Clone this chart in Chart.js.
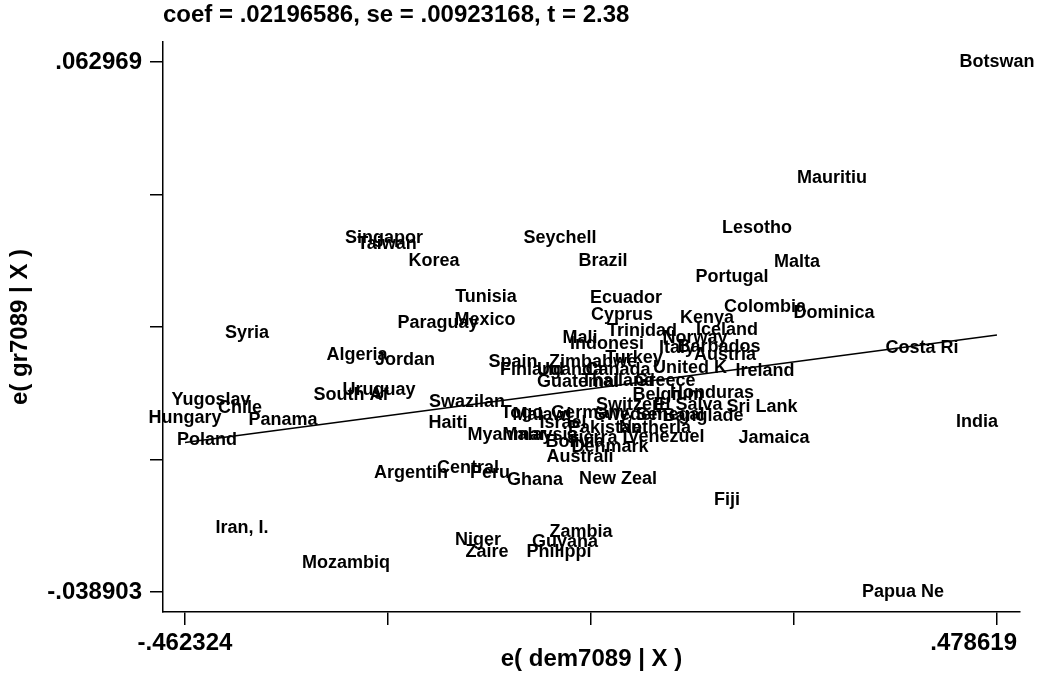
<!DOCTYPE html>
<html>
<head>
<meta charset="utf-8">
<script src="https://cdn.jsdelivr.net/npm/chart.js@4.4.1/dist/chart.umd.min.js"></script>
<style>
  html, body { margin: 0; padding: 0; background: #fff; }
  #avplot { display: block; }
</style>
</head>
<body>
<canvas id="avplot" width="1037" height="674"></canvas>
<script>
// added-variable plot, labels centred on the points
const countries = [
  'Botswan', 'Papua Ne', 'Hungary', 'Mauritiu', 'Lesotho', 'Malta', 'Portugal',
  'Singapor', 'Taiwan', 'Seychell', 'Korea', 'Brazil', 'Tunisia', 'Mexico',
  'Paraguay', 'Ecuador', 'Cyprus', 'Colombia', 'Dominica', 'Kenya', 'Syria',
  'Algeria', 'Jordan', 'Costa Ri', 'Ireland', 'India', 'Jamaica', 'Sri Lank',
  'Fiji', 'Mozambiq', 'Iran, I.', 'Niger', 'Zaire', 'Zambia', 'Guyana',
  'Philippi', 'Ghana', 'New Zeal', 'Central', 'Peru', 'Argentin', 'Haiti',
  'Swazilan', 'South Af', 'Uruguay', 'Yugoslav', 'Chile', 'Panama', 'Poland',
  'Spain', 'Zimbabwe', 'Turkey', 'Finland', 'Uganda', 'Guatemal', 'Thailand',
  'Greece', 'Belgium', 'Honduras', 'Switzerl', 'El Salva', 'Israel', 'Pakistan',
  'Netherla', 'Myanmar', 'Bolivia', 'Sierra L', 'Venezuel', 'Denmark', 'Australi',
  'Mali', 'Indonesi', 'Trinidad', 'Iceland', 'Norway', 'Italy', 'Barbados',
  'Austria', 'United K', 'Canada', 'Togo', 'Malawi', 'Germany,', 'Sweden',
  'Senegal', 'Banglade', 'Malaysia'
];
const demResid = [
  0.4786, 0.3697, -0.4623, 0.2874, 0.2005, 0.2469, 0.1715,
  -0.2317, -0.2282, -0.0278, -0.1738, 0.0221, -0.1135, -0.1147,
  -0.1691, 0.0487, 0.0441, 0.2098, 0.2897, 0.1426, -0.3905,
  -0.2630, -0.2074, 0.3917, 0.2098, 0.4554, 0.2202, 0.2063,
  0.1658, -0.2758, -0.3963, -0.1228, -0.1124, -0.0034, -0.0220,
  -0.0290, -0.0567, 0.0394, -0.1344, -0.1089, -0.2004, -0.1576,
  -0.1355, -0.2700, -0.2375, -0.4322, -0.3986, -0.3488, -0.4368,
  -0.0822, 0.0105, 0.0580, -0.0602, -0.0162, -0.0069, 0.0394,
  0.0939, 0.0974, 0.1484, 0.0533, 0.1206, -0.0243, 0.0244,
  0.0823, -0.0892, -0.0104, 0.0186, 0.0951, 0.0302, -0.0046,
  -0.0046, 0.0267, 0.0672, 0.1658, 0.1287, 0.1078, 0.1565,
  0.1634, 0.1229, 0.0394, -0.0718, -0.0486, 0.0093, 0.0510,
  0.0997, 0.1379, -0.0510
];
const grResid = [
  0.062969, -0.038903, -0.00546, 0.04067, 0.03106, 0.02453, 0.02164,
  0.02914, 0.02799, 0.02914, 0.02472, 0.02472, 0.01780, 0.01338,
  0.01280, 0.01761, 0.01434, 0.01588, 0.01472, 0.01376, 0.01088,
  0.00665, 0.00569, 0.00800, 0.00358, -0.00623, -0.00930, -0.00334,
  -0.02122, -0.03333, -0.02660, -0.02891, -0.03121, -0.02737, -0.02929,
  -0.03121, -0.01738, -0.01718, -0.01507, -0.01603, -0.01603, -0.00642,
  -0.00238, -0.00104, -0.00008, -0.00200, -0.00354, -0.00584, -0.00969,
  0.00531, 0.00531, 0.00608, 0.00377, 0.00377, 0.00146, 0.00165,
  0.00165, -0.00104, -0.00065, -0.00296, -0.00296, -0.00642, -0.00738,
  -0.00738, -0.00873, -0.01007, -0.00930, -0.00911, -0.01103, -0.01295,
  0.00992, 0.00877, 0.01126, 0.01146, 0.00992, 0.00800, 0.00819,
  0.00665, 0.00415, 0.00377, -0.00450, -0.00488, -0.00450, -0.00488,
  -0.00488, -0.00507, -0.00873
];

const coef = 0.02196586;
const fitX = [-0.462324, 0.478619];

const xTicks = [-0.462324, -0.22708825, 0.0081475, 0.24338325, 0.478619];
const xTickLabels = ['-.462324', '', '', '', '.478619'];
const yTicks = [-0.038903, -0.013435, 0.012033, 0.037501, 0.062969];
const yTickLabels = ['-.038903', '', '', '', '.062969'];

const FONT = '"Liberation Sans", Arial, Helvetica, sans-serif';

const pointLabels = {
  id: 'pointLabels',
  afterDatasetsDraw(chart) {
    const ctx = chart.ctx;
    const meta = chart.getDatasetMeta(0);
    ctx.save();
    ctx.font = 'bold 18px ' + FONT;
    ctx.fillStyle = '#000';
    ctx.textAlign = 'center';
    ctx.textBaseline = 'middle';
    meta.data.forEach((pt, i) => {
      ctx.fillText(countries[i], pt.x, pt.y);
    });
    ctx.restore();
  }
};

new Chart(document.getElementById('avplot'), {
  type: 'scatter',
  data: {
    datasets: [{
      label: 'countries',
      data: demResid.map((x, i) => ({ x: x, y: grResid[i] })),
      pointRadius: 0,
      pointHoverRadius: 0
    }, {
      type: 'line',
      label: 'fit',
      data: fitX.map(x => ({ x: x, y: coef * x })),
      borderColor: '#000',
      borderWidth: 1.5,
      pointRadius: 0,
      fill: false
    }]
  },
  plugins: [pointLabels],
  options: {
    responsive: false,
    animation: false,
    events: [],
    layout: { padding: { left: 0, right: 17, top: 0, bottom: 0 } },
    plugins: {
      legend: { display: false },
      tooltip: { enabled: false },
      title: {
        display: true,
        fullSize: false,
        align: 'start',
        text: 'coef = .02196586, se = .00923168, t = 2.38',
        color: '#000',
        font: { family: FONT, size: 24, weight: 'bold' },
        padding: { top: 1, bottom: 12.2 }
      }
    },
    scales: {
      x: {
        type: 'linear',
        min: -0.4878,
        max: 0.5053,
        afterBuildTicks: s => { s.ticks = xTicks.map(v => ({ value: v })); },
        afterFit: s => { s.height = 62; s.paddingRight = 0; s.paddingLeft = 0; },
        ticks: {
          color: '#000',
          padding: 4,
          autoSkip: false,
          maxRotation: 0,
          font: { family: FONT, size: 24, weight: 'bold' },
          // last label sits left of its tick, as in the original
          callback: (v, i) => i === 4 ? xTickLabels[i] + '       ' : xTickLabels[i]
        },
        grid: {
          display: true,
          drawOnChartArea: false,
          drawTicks: true,
          tickLength: 13,
          color: '#000',
          lineWidth: 1.5
        },
        border: { display: true, color: '#000', width: 1.5 },
        title: {
          display: true,
          text: 'e( dem7089 | X )',
          color: '#000',
          font: { family: FONT, size: 24, weight: 'bold' },
          padding: { top: 0, bottom: 0 }
        }
      },
      y: {
        type: 'linear',
        min: -0.04275,
        max: 0.06681,
        afterBuildTicks: s => { s.ticks = yTicks.map(v => ({ value: v })); },
        afterFit: s => { s.width = 163; },
        ticks: {
          color: '#000',
          padding: 8,
          autoSkip: false,
          font: { family: FONT, size: 24, weight: 'bold' },
          callback: (v, i) => yTickLabels[i]
        },
        grid: {
          display: true,
          drawOnChartArea: false,
          drawTicks: true,
          tickLength: 13,
          color: '#000',
          lineWidth: 1.5
        },
        border: { display: true, color: '#000', width: 1.5 },
        title: {
          display: true,
          text: 'e( gr7089 | X )',
          color: '#000',
          font: { family: FONT, size: 24, weight: 'bold' },
          padding: { top: 6, bottom: 0 }
        }
      }
    }
  }
});
</script>
</body>
</html>
